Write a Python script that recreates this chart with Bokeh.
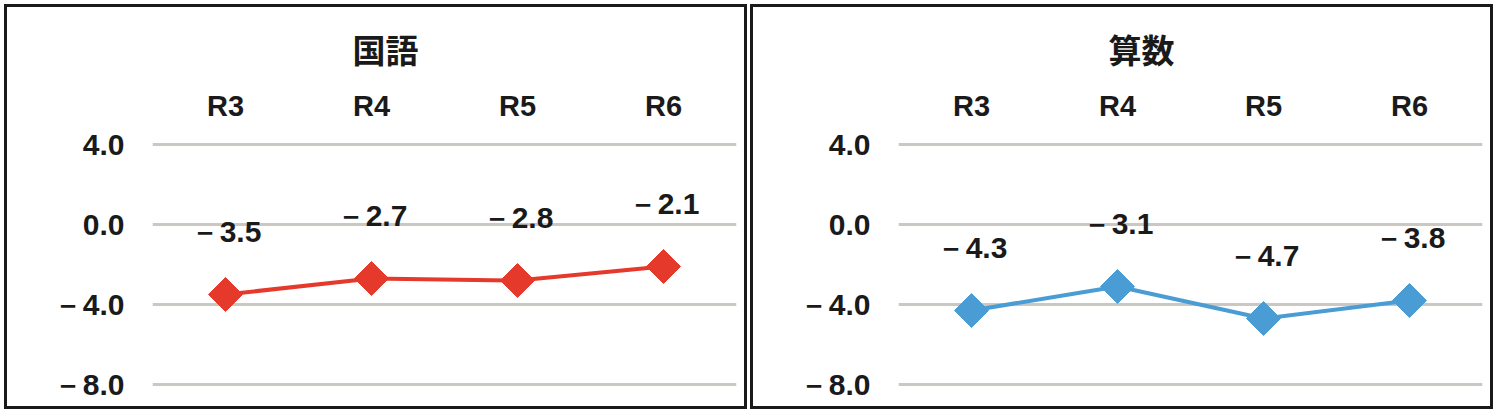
from bokeh.plotting import figure
from bokeh.layouts import row
from bokeh.models import ColumnDataSource, Range1d, FixedTicker
from bokeh.core.properties import value
from bokeh.embed import file_html
from bokeh.resources import INLINE
import numpy as np

categories = ["R3", "R4", "R5", "R6"]
kokugo = [-3.5, -2.7, -2.8, -2.1]
sansu = [-4.3, -3.1, -4.7, -3.8]
y_ticks = [-8, -4, 0, 4]
y_tick_labels = ["－8.0", "－4.0", "0.0", "4.0"]
panel_titles = ["国語", "算数"]

FONT = "Liberation Sans"
TEXT = "#1a1a1a"


def fmt(v):
    return ("－" if v < 0 else "") + f"{abs(v):.1f}"


def make_panel(title, vals, color, title_offset):
    p = figure(x_range=categories, y_range=Range1d(-9, 5),
               width=743, height=405, x_axis_location="above",
               output_backend="svg", toolbar_location=None,
               min_border_left=145, min_border_right=14,
               min_border_top=117, min_border_bottom=8)
    p.styles = {"border": "3px solid #1a1a1a"}
    p.outline_line_color = None
    p.background_fill_color = "white"
    p.border_fill_color = "white"

    p.title.text = title
    p.title.text_font = "Noto Sans CJK JP"
    p.title.text_font_size = "33px"
    p.title.text_font_style = "bold"
    p.title.text_color = TEXT
    p.title.align = "left"
    p.title.offset = title_offset
    p.title.standoff = 28

    xa = p.xaxis[0]
    xa.axis_line_color = None
    xa.major_tick_line_color = None
    xa.minor_tick_line_color = None
    xa.major_label_text_font = FONT
    xa.major_label_text_font_size = "29px"
    xa.major_label_text_font_style = "bold"
    xa.major_label_text_color = TEXT
    xa.major_label_standoff = -3

    ya = p.yaxis[0]
    ya.ticker = FixedTicker(ticks=y_ticks)
    ya.major_label_overrides = {t: l for t, l in zip(y_ticks, y_tick_labels)}
    ya.axis_line_color = None
    ya.major_tick_line_color = None
    ya.major_tick_out = 0
    ya.minor_tick_line_color = None
    ya.major_label_text_font = FONT
    ya.major_label_text_font_size = "30px"
    ya.major_label_text_font_style = "bold"
    ya.major_label_text_color = TEXT
    ya.major_label_standoff = 28

    p.xgrid.grid_line_color = None
    p.ygrid.ticker = FixedTicker(ticks=y_ticks)
    p.ygrid.grid_line_color = "#cbc7c3"
    p.ygrid.grid_line_width = 3

    src = ColumnDataSource(dict(x=categories, y=vals, lab=[fmt(v) for v in vals]))
    p.line("x", "y", source=src, line_color=color, line_width=4)
    p.scatter("x", "y", source=src, marker="square", angle=np.pi / 4,
              size=24, fill_color=color, line_color=color)
    p.text("x", "y", text="lab", source=src, text_font=value(FONT),
           text_font_size="30px", text_font_style="bold", text_color=TEXT,
           text_align="center", text_baseline="alphabetic", y_offset=-63)
    return p


p1 = make_panel(panel_titles[0], kokugo, "#e5392c", 200)
p2 = make_panel(panel_titles[1], sansu, "#4a9dd4", 210)
layout = row(p1, p2, spacing=3, styles={"margin-left": "4px", "margin-top": "4px"})

open("out.html", "w").write(file_html(layout, INLINE))
